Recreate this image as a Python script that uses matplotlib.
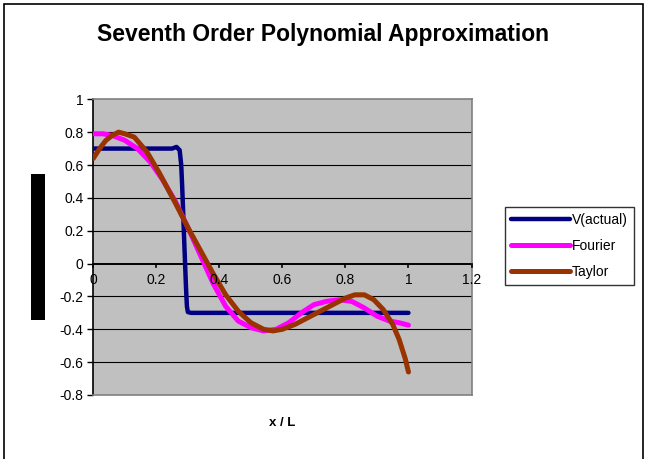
import matplotlib
matplotlib.use("Agg")
import matplotlib.pyplot as plt
from matplotlib.patches import Rectangle

plt.rcParams['font.family'] = ['Liberation Sans', 'DejaVu Sans']

title = "Seventh Order Polynomial Approximation"
xlabel = "x / L"

v_x = [0.0, 0.05, 0.10, 0.15, 0.20, 0.25, 0.264, 0.274, 0.279, 0.282, 0.285, 0.288, 0.291, 0.294, 0.297, 0.300, 0.31,
       0.40, 0.50, 0.60, 0.70, 0.80, 0.90, 1.0]
v_y = [0.70, 0.70, 0.70, 0.70, 0.70, 0.70, 0.71, 0.69, 0.60, 0.47, 0.32, 0.16, 0.01, -0.14, -0.26, -0.295, -0.30,
       -0.30, -0.30, -0.30, -0.30, -0.30, -0.30, -0.30]

f_x = [0.0, 0.03, 0.06, 0.10, 0.14, 0.18, 0.22, 0.26, 0.30, 0.34, 0.38, 0.42, 0.46, 0.50, 0.54, 0.58, 0.62,
       0.66, 0.70, 0.74, 0.78, 0.82, 0.86, 0.90, 0.94, 0.97, 1.0]
f_y = [0.79, 0.79, 0.78, 0.75, 0.70, 0.62, 0.51, 0.38, 0.22, 0.05, -0.12, -0.26, -0.35, -0.39, -0.41, -0.40, -0.36,
       -0.30, -0.25, -0.23, -0.22, -0.23, -0.27, -0.32, -0.35, -0.36, -0.375]

t_x = [0.0, 0.02, 0.04, 0.06, 0.08, 0.10, 0.13, 0.17, 0.21, 0.26, 0.30, 0.34, 0.38, 0.42, 0.46, 0.50, 0.54,
       0.57, 0.60, 0.64, 0.68, 0.72, 0.76, 0.80, 0.83, 0.86, 0.89, 0.92, 0.95, 0.97, 0.99, 1.0]
t_y = [0.64, 0.70, 0.75, 0.78, 0.80, 0.79, 0.77, 0.68, 0.55, 0.37, 0.22, 0.08, -0.06, -0.19, -0.29, -0.36, -0.40,
       -0.41, -0.40, -0.37, -0.33, -0.29, -0.25, -0.21, -0.19, -0.19, -0.22, -0.28, -0.37, -0.46, -0.58, -0.66]

x_ticks = [0, 0.2, 0.4, 0.6, 0.8, 1, 1.2]
x_tick_labels = ["0", "0.2", "0.4", "0.6", "0.8", "1", "1.2"]
y_ticks = [-0.8, -0.6, -0.4, -0.2, 0, 0.2, 0.4, 0.6, 0.8, 1]
y_tick_labels = ["-0.8", "-0.6", "-0.4", "-0.2", "0", "0.2", "0.4", "0.6", "0.8", "1"]

W, H = 646, 459
fig = plt.figure(figsize=(W / 100, H / 100), dpi=100)
fig.patch.set_facecolor('white')

ax = fig.add_axes([93.3 / W, (H - 395) / H, (471.5 - 93.3) / W, (395 - 99.3) / H])
ax.set_facecolor('#C0C0C0')
ax.set_xlim(0, 1.2)
ax.set_ylim(-0.8, 1)

for yt in y_ticks:
    if yt not in (0, -0.8, 1):
        ax.axhline(yt, color='black', lw=0.8, zorder=1)

ax.plot(v_x, v_y, color='#000080', lw=3.2, solid_capstyle='round', solid_joinstyle='round', label='V(actual)', zorder=3)
ax.plot(f_x, f_y, color='#FF00FF', lw=3.6, solid_capstyle='round', solid_joinstyle='round', label='Fourier', zorder=4)
ax.plot(t_x, t_y, color='#993300', lw=3.6, solid_capstyle='round', solid_joinstyle='round', label='Taylor', zorder=5)

for s in ['top', 'right']:
    ax.spines[s].set_color('#808080')
    ax.spines[s].set_linewidth(1.2)
ax.spines['left'].set_color('black')
ax.spines['left'].set_linewidth(1.2)
ax.spines['bottom'].set_color('#808080')
ax.spines['bottom'].set_linewidth(1.2)
ax.axhline(0, color='black', lw=1.4, zorder=2)

ax.set_yticks(y_ticks)
ax.set_yticklabels(y_tick_labels, fontsize=10)
ax.tick_params(axis='y', direction='out', length=4, width=1, pad=3)
ax.set_xticks([])
for xt, lab in zip(x_ticks, x_tick_labels):
    ax.plot([xt, xt], [0, -0.018], color='black', lw=1.2, clip_on=False, zorder=6)
    ax.text(xt, -0.055, lab, ha='center', va='top', fontsize=10, zorder=6)

fig.text(282 / W, 1 - 423 / H, xlabel, ha='center', va='center', fontsize=9.5, fontweight='bold')

t = fig.text(323 / W, 1 - 35 / H, title, ha='center', va='center', fontsize=16.5, fontweight='bold')

leg = ax.legend(loc='upper left', bbox_to_anchor=(505 / W, 1 - 207 / H), bbox_transform=fig.transFigure,
                frameon=True, fancybox=False, fontsize=10, handlelength=4.2, handletextpad=0.15,
                borderpad=0.45, labelspacing=0.85, borderaxespad=0)
leg.get_frame().set_edgecolor('black')
leg.get_frame().set_linewidth(1.0)

fig.patches.append(Rectangle((3.5 / W, -0.02), (643 - 3.5) / W, 1.02 - 4 / H, transform=fig.transFigure,
                             fill=False, edgecolor='black', lw=1.2))
fig.patches.append(Rectangle((31 / W, 1 - 320 / H), 14 / W, 146 / H, transform=fig.transFigure,
                             facecolor='black', edgecolor='none'))

fig.savefig('out.png', dpi=100)
